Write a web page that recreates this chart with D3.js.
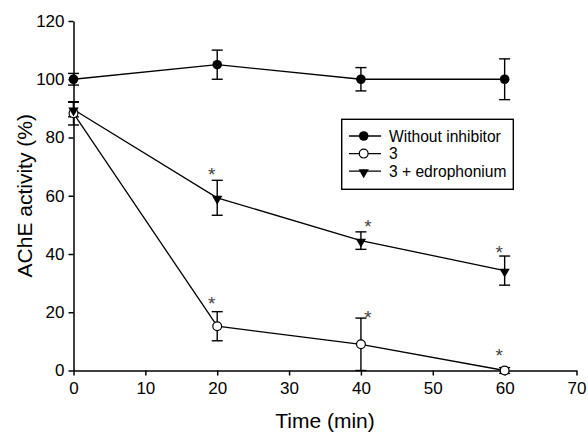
<!DOCTYPE html>
<html>
<head>
<meta charset="utf-8">
<script src="https://cdn.jsdelivr.net/npm/d3@7"></script>
<style>
  body { margin: 0; background: #fff; }
  svg { display: block; font-family: "Liberation Sans", Arial, sans-serif; }
</style>
</head>
<body>
<svg id="chart" width="588" height="432"></svg>
<script>
"use strict";

// data
var times = [0, 20, 40, 60];

var seriesNames = ["Without inhibitor", "3", "3 + edrophonium"];

var noInhibitor     = [100, 105, 100, 100];
var noInhibitorErr  = [2, 5, 4, 7];

var cmp3            = [88.3, 15.2, 9, 0];
var cmp3Err         = [4, 5, 9, 1];

var cmp3Edro        = [89.6, 59.3, 44.6, 34.3];
var cmp3EdroErr     = [2.5, 6, 3, 5];

// significance marks: time and value level of each star
var starTimes  = [20, 40, 60, 20, 40, 60];
var starLevels = [68.8, 51, 42, 24.4, 19.7, 6.6];

var xTicks = [0, 10, 20, 30, 40, 50, 60, 70];
var yTicks = [0, 20, 40, 60, 80, 100, 120];

var svg = d3.select("#chart");

var x = d3.scaleLinear().domain([0, 70]).range([73.5, 576.5]);
var y = d3.scaleLinear().domain([0, 120]).range([370.5, 21]);

function toPoints(vals, errs) {
    return times.map(function (t, i) {
        return { t: t, v: vals[i], e: errs[i] };
    });
}

var series = [
    { name: seriesNames[0], pts: toPoints(noInhibitor, noInhibitorErr), marker: "filled" },
    { name: seriesNames[1], pts: toPoints(cmp3, cmp3Err), marker: "open" },
    { name: seriesNames[2], pts: toPoints(cmp3Edro, cmp3EdroErr), marker: "tri" }
];

var line = d3.line()
    .x(function (d) { return x(d.t); })
    .y(function (d) { return y(d.v); });

var triPath = d3.symbol().type(d3.symbolTriangle).size(46)();

function drawMarker(g, kind) {
    if (kind == "filled") {
        g.append("circle").attr("r", 4.8).attr("fill", "#000");
    } else if (kind == "open") {
        g.append("circle").attr("r", 4.4).attr("fill", "#fff")
            .attr("stroke", "#000").attr("stroke-width", 1.2);
    } else {
        g.append("path").attr("d", triPath).attr("transform", "rotate(180) translate(0,-1)")
            .attr("fill", "#000");
    }
}

// axes
var xAxis = d3.axisBottom(x).tickValues(xTicks).tickSize(5).tickSizeOuter(0).tickPadding(6.5);
var yAxis = d3.axisLeft(y).tickValues(yTicks).tickSize(5).tickSizeOuter(0).tickPadding(4);

var gx = svg.append("g").attr("transform", "translate(0," + y(0) + ")").call(xAxis);
var gy = svg.append("g").attr("transform", "translate(" + x(0) + ",0)").call(yAxis);

[gx, gy].forEach(function (g) {
    g.selectAll("path, line").attr("stroke", "#000").attr("stroke-width", 1.5);
    g.selectAll("text").attr("font-size", 17).attr("fill", "#000")
        .attr("font-family", "Liberation Sans, Arial, sans-serif");
});

svg.append("text")
    .attr("x", x(35)).attr("y", 428)
    .attr("text-anchor", "middle")
    .attr("font-size", 21)
    .text("Time (min)");

svg.append("text")
    .attr("transform", "translate(31.5," + (y(60)) + ") rotate(-90)")
    .attr("text-anchor", "middle")
    .attr("font-size", 21)
    .text("AChE activity (%)");

// lines
series.forEach(function (s) {
    svg.append("path")
        .datum(s.pts)
        .attr("d", line)
        .attr("fill", "none")
        .attr("stroke", "#000")
        .attr("stroke-width", 1.3);
});

// error bars
series.forEach(function (s) {
    var eb = svg.append("g").selectAll("g").data(s.pts).enter().append("g");
    eb.append("line")
        .attr("x1", function (d) { return x(d.t); })
        .attr("x2", function (d) { return x(d.t); })
        .attr("y1", function (d) { return y(d.v + d.e); })
        .attr("y2", function (d) { return y(Math.max(0, d.v - d.e)); })
        .attr("stroke", "#000").attr("stroke-width", 1.4);
    eb.selectAll(".cap")
        .data(function (d) { return [d.v + d.e, d.v - d.e].map(function (v) { return { t: d.t, v: v }; }); })
        .enter().append("line")
        .attr("class", "cap")
        .attr("x1", function (d) { return x(d.t) - 5.5; })
        .attr("x2", function (d) { return x(d.t) + 5.5; })
        .attr("y1", function (d) { return y(d.v); })
        .attr("y2", function (d) { return y(d.v); })
        .attr("stroke", "#000").attr("stroke-width", 1.4);
});

// markers (open circles under triangles)
[0, 1, 2].forEach(function (k) {
    var s = series[k];
    s.pts.forEach(function (d) {
        var g = svg.append("g").attr("transform", "translate(" + x(d.t) + "," + y(d.v) + ")");
        drawMarker(g, s.marker);
    });
});

// stars
svg.append("g").selectAll("text")
    .data(starTimes.map(function (t, i) { return { t: t, v: starLevels[i] }; }))
    .enter().append("text")
    .attr("x", function (d) { return x(d.t) + (d.t == 40 ? 7 : -5.5); })
    .attr("y", function (d) { return y(d.v) + 11; })
    .attr("text-anchor", "middle")
    .attr("font-size", 19)
    .attr("fill", "#444")
    .text("*");

// legend
var legend = svg.append("g").attr("transform", "translate(341.7,119.3)");
legend.append("rect")
    .attr("width", 171.6).attr("height", 70)
    .attr("fill", "#fff").attr("stroke", "#000").attr("stroke-width", 1.4);

var rows = legend.selectAll(".row").data(series).enter().append("g")
    .attr("class", "row")
    .attr("transform", function (d, i) { return "translate(0," + (16.7 + i * 17.6) + ")"; });

rows.append("line")
    .attr("x1", 7.3).attr("x2", 39.3)
    .attr("stroke", "#000").attr("stroke-width", 1.3);

rows.each(function (d) {
    var g = d3.select(this).append("g").attr("transform", "translate(22,0)");
    drawMarker(g, d.marker);
});

rows.append("text")
    .attr("x", 47.3).attr("y", 5.6)
    .attr("font-size", 15.6)
    .text(function (d) { return d.name; });
</script>
</body>
</html>
